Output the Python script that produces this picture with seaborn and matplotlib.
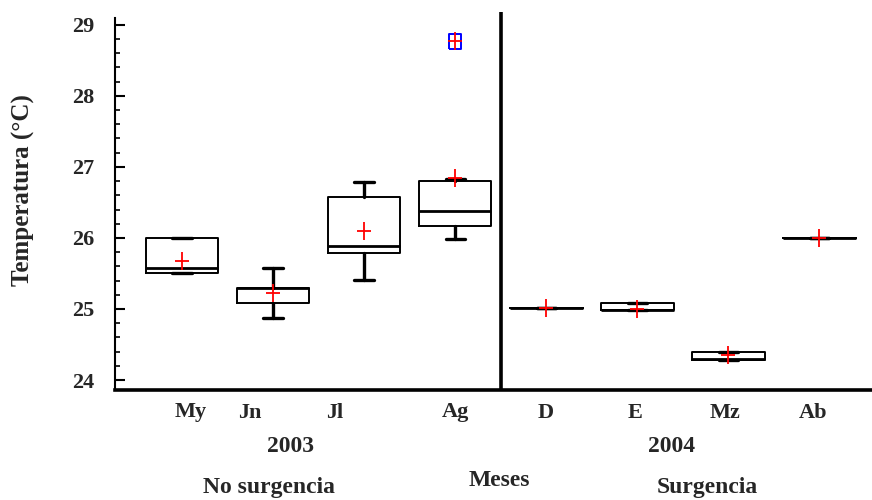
import numpy as np
import pandas as pd
import matplotlib
matplotlib.use("Agg")
import matplotlib.pyplot as plt
import seaborn as sns
from matplotlib.ticker import MultipleLocator

# Monthly sea temperature summaries (°C)
months = ["My", "Jn", "Jl", "Ag", "D", "E", "Mz", "Ab"]
whisker_low = [25.50, 24.87, 25.41, 25.99, 25.01, 24.98, 24.28, 26.00]
quartile_1 = [25.51, 25.08, 25.79, 26.17, 25.01, 24.98, 24.28, 26.00]
medians = [25.58, 25.30, 25.89, 26.38, 25.01, 24.98, 24.29, 26.00]
quartile_3 = [26.00, 25.30, 26.58, 26.80, 25.01, 25.09, 24.40, 26.00]
whisker_high = [26.00, 25.58, 26.79, 26.83, 25.01, 25.09, 24.40, 26.00]
means = [25.68, 25.22, 26.10, 26.85, 25.01, 25.00, 24.35, 26.00]
outlier_month = "Ag"
outlier_value = 28.77

years = ["2003", "2004"]
periods = ["No surgencia", "Surgencia"]
x_title = "Meses"
y_title = "Temperatura (°C)"

sns.set_theme(style="ticks")
plt.rcParams["font.family"] = ["Liberation Serif", "DejaVu Serif"]
plt.rcParams["font.weight"] = "bold"

W, H = 872, 500
fig = plt.figure(figsize=(W / 100, H / 100), dpi=100)
ax = fig.add_axes([115 / W, 1 - 390 / H, (W - 115) / W, (390 - 12) / H])

pos = np.arange(len(months))
stats = [
    dict(whislo=lo, q1=a, med=m, q3=b, whishi=hi, fliers=[])
    for lo, a, m, b, hi in zip(whisker_low, quartile_1, medians, quartile_3, whisker_high)
]
ax.bxp(
    stats, positions=pos, widths=0.8, capwidths=0.21, showfliers=False,
    boxprops=dict(color="black", linewidth=1.4),
    medianprops=dict(color="black", linewidth=2.0),
    whiskerprops=dict(color="black", linewidth=2.4),
    capprops=dict(color="black", linewidth=2.4),
)

# Red crosses for the means (taller than wide), plus one on the outlier
mean_df = pd.DataFrame({"pos": pos, "mean": means})
out_idx = months.index(outlier_month)
cross_df = pd.concat(
    [mean_df, pd.DataFrame({"pos": [out_idx], "mean": [outlier_value]})],
    ignore_index=True,
)

# Outlier as an open blue rectangle
rect = [(-0.37, -0.5), (0.37, -0.5), (0.37, 0.5), (-0.37, 0.5), (-0.37, -0.5)]
ax.scatter([out_idx], [outlier_value], marker=rect, s=120, facecolors="none",
           edgecolors="blue", linewidths=1.4, zorder=4)

sns.scatterplot(data=cross_df, x="pos", y="mean", marker="|", s=170, color="red",
                linewidth=1.3, ax=ax, zorder=5, legend=False)
sns.scatterplot(data=cross_df, x="pos", y="mean", marker="_", s=90, color="red",
                linewidth=1.3, ax=ax, zorder=5, legend=False)

# Separator between 2003 and 2004
ax.axvline(3.5, color="black", lw=2.6, zorder=3)

ax.set_xlim(-0.736, 7.58)
ax.set_ylim(23.86, 29.18)
ax.set_xlabel("")
ax.set_ylabel("")

for s in ("top", "right"):
    ax.spines[s].set_visible(False)
ax.spines["left"].set_linewidth(1.5)
ax.spines["left"].set_color("black")
ax.spines["left"].set_bounds(23.86, 29.10)
ax.spines["bottom"].set_linewidth(2.6)
ax.spines["bottom"].set_color("black")

ax.yaxis.set_major_locator(MultipleLocator(1))
ax.yaxis.set_minor_locator(MultipleLocator(0.2))
ax.tick_params(axis="y", which="major", direction="in", length=7, width=1.5,
               color="black", pad=15, labelsize=16)
ax.tick_params(axis="y", which="minor", direction="in", length=3.5, width=1.2,
               color="black")
for t in ax.get_yticklabels():
    t.set_fontweight("bold")

# Month labels
label_shift = [0.09, -0.26, -0.32, 0.0, 0.0, -0.02, -0.03, -0.07]
ax.set_xticks(pos + np.array(label_shift))
ax.set_xticklabels(months, fontsize=16, fontweight="bold")
ax.tick_params(axis="x", length=0, pad=9)


def px_text(x, y, s, size=17, **kw):
    fig.text(x / W, 1 - y / H, s, ha="center", va="center",
             fontsize=size, fontweight="bold", **kw)


px_text(290, 447, years[0])
px_text(672, 447, years[1])
px_text(269, 487, periods[0])
px_text(707, 487, periods[1])
px_text(499, 481, x_title)
px_text(23, 190, y_title, size=18, rotation=90)

fig.savefig("out.png", dpi=100)
